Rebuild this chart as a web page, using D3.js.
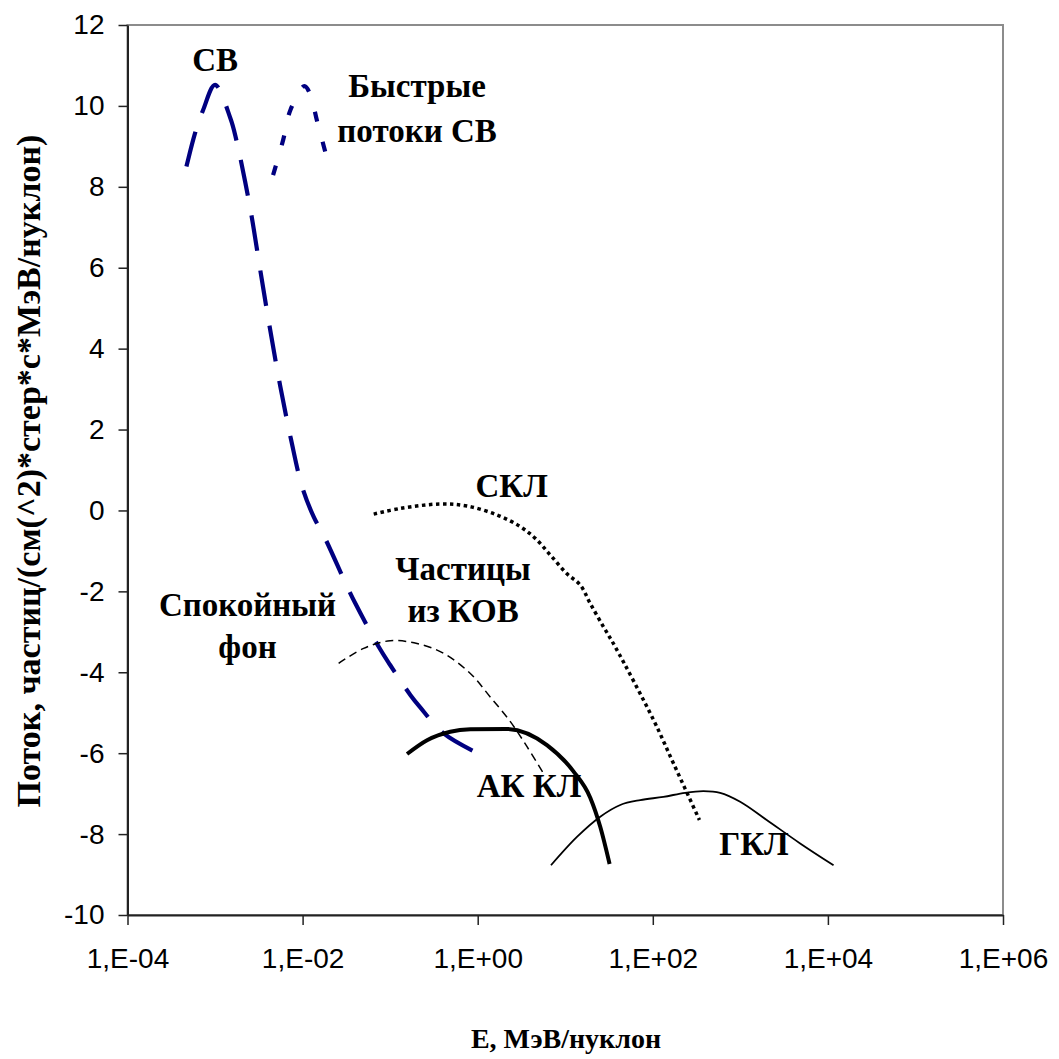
<!DOCTYPE html>
<html>
<head>
<meta charset="utf-8">
<script src="https://cdn.jsdelivr.net/npm/d3@7"></script>
<style>
  html, body { margin: 0; padding: 0; background: #fff; }
  svg { display: block; }
  .tick text { font-family: "Liberation Sans", Arial, sans-serif; font-size: 28px; fill: #000; }
  .note, .title { font-family: "Liberation Serif", "Times New Roman", serif; font-weight: bold; fill: #000; }
</style>
</head>
<body>
<svg id="chart" width="1059" height="1059"></svg>
<script>
// Energy (MeV/nucleon) and log10 flux for each particle population.

// Solar wind (СВ)
const swE = [4.71e-4, 5.97e-4, 7.31e-4, 1.0e-3, 1.50e-3, 1.75e-3, 2.54e-3, 3.24e-3, 4.10e-3,
             5.48e-3, 7.40e-3, 9.86e-3, 1.34e-2, 1.77e-2, 3.16e-2, 4.01e-2, 7.40e-2, 0.100,
             0.170, 0.217, 0.408, 1.0];
const swF = [8.50, 9.36, 9.90, 10.52, 9.69, 9.16, 7.43, 6.02, 4.68,
             3.14, 1.74, 0.59, -0.16, -0.65, -1.84, -2.30, -3.37, -3.82,
             -4.56, -4.85, -5.51, -6.0];

// Fast solar wind streams
const fastE = [4.60e-3, 6.00e-3, 7.26e-3, 1.05e-2, 1.21e-2, 1.47e-2, 1.87e-2];
const fastF = [8.29, 9.16, 9.90, 10.49, 10.31, 9.61, 8.76];

// Solar cosmic rays (СКЛ)
const sclE = [6.49e-2, 0.131, 0.374, 0.755, 1.66, 3.06, 4.55, 6.75, 10.4, 14.8, 19.3,
              27.4, 37.2, 102, 172, 341];
const sclF = [-0.09, 0.05, 0.16, 0.11, -0.11, -0.40, -0.69, -1.10, -1.56, -1.84, -2.30,
              -2.88, -3.37, -5.18, -6.25, -7.65];

// Particles from CIRs (Частицы из КОВ)
const cirE = [2.58e-2, 4.98e-2, 0.100, 0.203, 0.408, 0.824, 1.39, 2.36, 3.66, 5.65];
const cirF = [-3.78, -3.41, -3.22, -3.29, -3.53, -4.03, -4.61, -5.22, -5.84, -6.50];

// Anomalous cosmic rays (АК КЛ)
const acrE = [0.156, 0.264, 0.486, 0.824, 2.1, 6.18, 12.4, 19.3, 25.1, 32.1];
const acrF = [-6.02, -5.68, -5.47, -5.41, -5.40, -5.80, -6.45, -7.10, -7.82, -8.74];

// Galactic cosmic rays (ГКЛ)
const gcrE = [6.87, 13.6, 25.1, 42.5, 71.8, 132, 234, 379, 587, 995, 2000, 4820, 11600];
const gcrF = [-8.77, -8.07, -7.57, -7.28, -7.16, -7.08, -6.98, -6.94, -6.98, -7.20, -7.65, -8.23, -8.77];

// Axis ticks
const xTicks = [1e-4, 1e-2, 1e0, 1e2, 1e4, 1e6];
const yTicks = [-10, -8, -6, -4, -2, 0, 2, 4, 6, 8, 10, 12];

// Curve annotations placed at (E, flux)
const notes = [
  { text: "СВ", E: 1.0e-3, F: 10.86 },
  { text: "Быстрые", E: 0.203, F: 10.22 },
  { text: "потоки СВ", E: 0.203, F: 9.11 },
  { text: "СКЛ", E: 2.44, F: 0.33 },
  { text: "Частицы", E: 0.68, F: -1.72 },
  { text: "из КОВ", E: 0.68, F: -2.76 },
  { text: "Спокойный", E: 2.35e-3, F: -2.61 },
  { text: "фон", E: 2.35e-3, F: -3.65 },
  { text: "АК КЛ", E: 3.85, F: -7.09 },
  { text: "ГКЛ", E: 1430, F: -8.52 }
];

const svg = d3.select("#chart");
const plot = { left: 127.5, right: 1003, top: 25, bottom: 915 };

const x = d3.scaleLog().domain([1e-4, 1e6]).range([plot.left, plot.right]);
const y = d3.scaleLinear().domain([-10, 12]).range([plot.bottom, plot.top]);

// Plot frame (grey border)
svg.append("rect")
  .attr("x", plot.left).attr("y", plot.top)
  .attr("width", plot.right - plot.left).attr("height", plot.bottom - plot.top)
  .attr("fill", "none").attr("stroke", "#8c8c8c").attr("stroke-width", 2);

// Axes
const fmtE = d => {
  const e = Math.round(Math.log10(d));
  return "1,E" + (e < 0 ? "-" : "+") + String(Math.abs(e)).padStart(2, "0");
};

const gx = svg.append("g")
  .attr("transform", `translate(0,${plot.bottom})`)
  .call(d3.axisBottom(x).tickValues(xTicks).tickFormat(fmtE).tickSize(10).tickPadding(23).tickSizeOuter(0));
const gy = svg.append("g")
  .attr("transform", `translate(${plot.left},0)`)
  .call(d3.axisLeft(y).tickValues(yTicks).tickFormat(d => String(d)).tickSize(9).tickPadding(14).tickSizeOuter(0));

[gx, gy].forEach(g => {
  g.select(".domain").attr("stroke", "#222").attr("stroke-width", 2);
  g.selectAll(".tick line").attr("stroke", "#222").attr("stroke-width", 1.5);
});

// Curves
const smooth = d3.line()
  .x(d => x(d[0]))
  .y(d => y(d[1]))
  .curve(d3.curveCatmullRom.alpha(0.5));
const plateau = d3.line()
  .x(d => x(d[0]))
  .y(d => y(d[1]))
  .curve(d3.curveMonotoneX);

const zip = (a, b) => a.map((v, i) => [v, b[i]]);

const series = [
  { pts: zip(swE, swF),     gen: smooth,  color: "#000080", width: 4.2, dash: "36,20" },
  { pts: zip(fastE, fastF), gen: smooth,  color: "#000080", width: 4.2, dash: "10,21" },
  { pts: zip(sclE, sclF),   gen: smooth,  color: "#000", width: 3.5, dash: "3.5,3.5" },
  { pts: zip(cirE, cirF),   gen: smooth,  color: "#000", width: 1.5, dash: "8,5" },
  { pts: zip(acrE, acrF),   gen: plateau, color: "#000", width: 4, dash: null },
  { pts: zip(gcrE, gcrF),   gen: smooth,  color: "#000", width: 1.8, dash: null }
];

svg.append("g").selectAll("path")
  .data(series)
  .join("path")
  .attr("d", d => d.gen(d.pts))
  .attr("fill", "none")
  .attr("stroke", d => d.color)
  .attr("stroke-width", d => d.width)
  .attr("stroke-dasharray", d => d.dash);

// Annotations
svg.append("g").selectAll("text")
  .data(notes)
  .join("text")
  .attr("class", "note")
  .attr("x", d => x(d.E))
  .attr("y", d => y(d.F))
  .attr("text-anchor", "middle")
  .attr("font-size", 33)
  .text(d => d.text);

// Axis titles
svg.append("text")
  .attr("class", "title")
  .attr("transform", `translate(40,471) rotate(-90)`)
  .attr("text-anchor", "middle")
  .attr("font-size", 34)
  .text("Поток, частиц/(см(^2)*стер*с*МэВ/нуклон)");

svg.append("text")
  .attr("class", "title")
  .attr("x", 566).attr("y", 1048)
  .attr("text-anchor", "middle")
  .attr("font-size", 28)
  .text("E, МэВ/нуклон");
</script>
</body>
</html>
